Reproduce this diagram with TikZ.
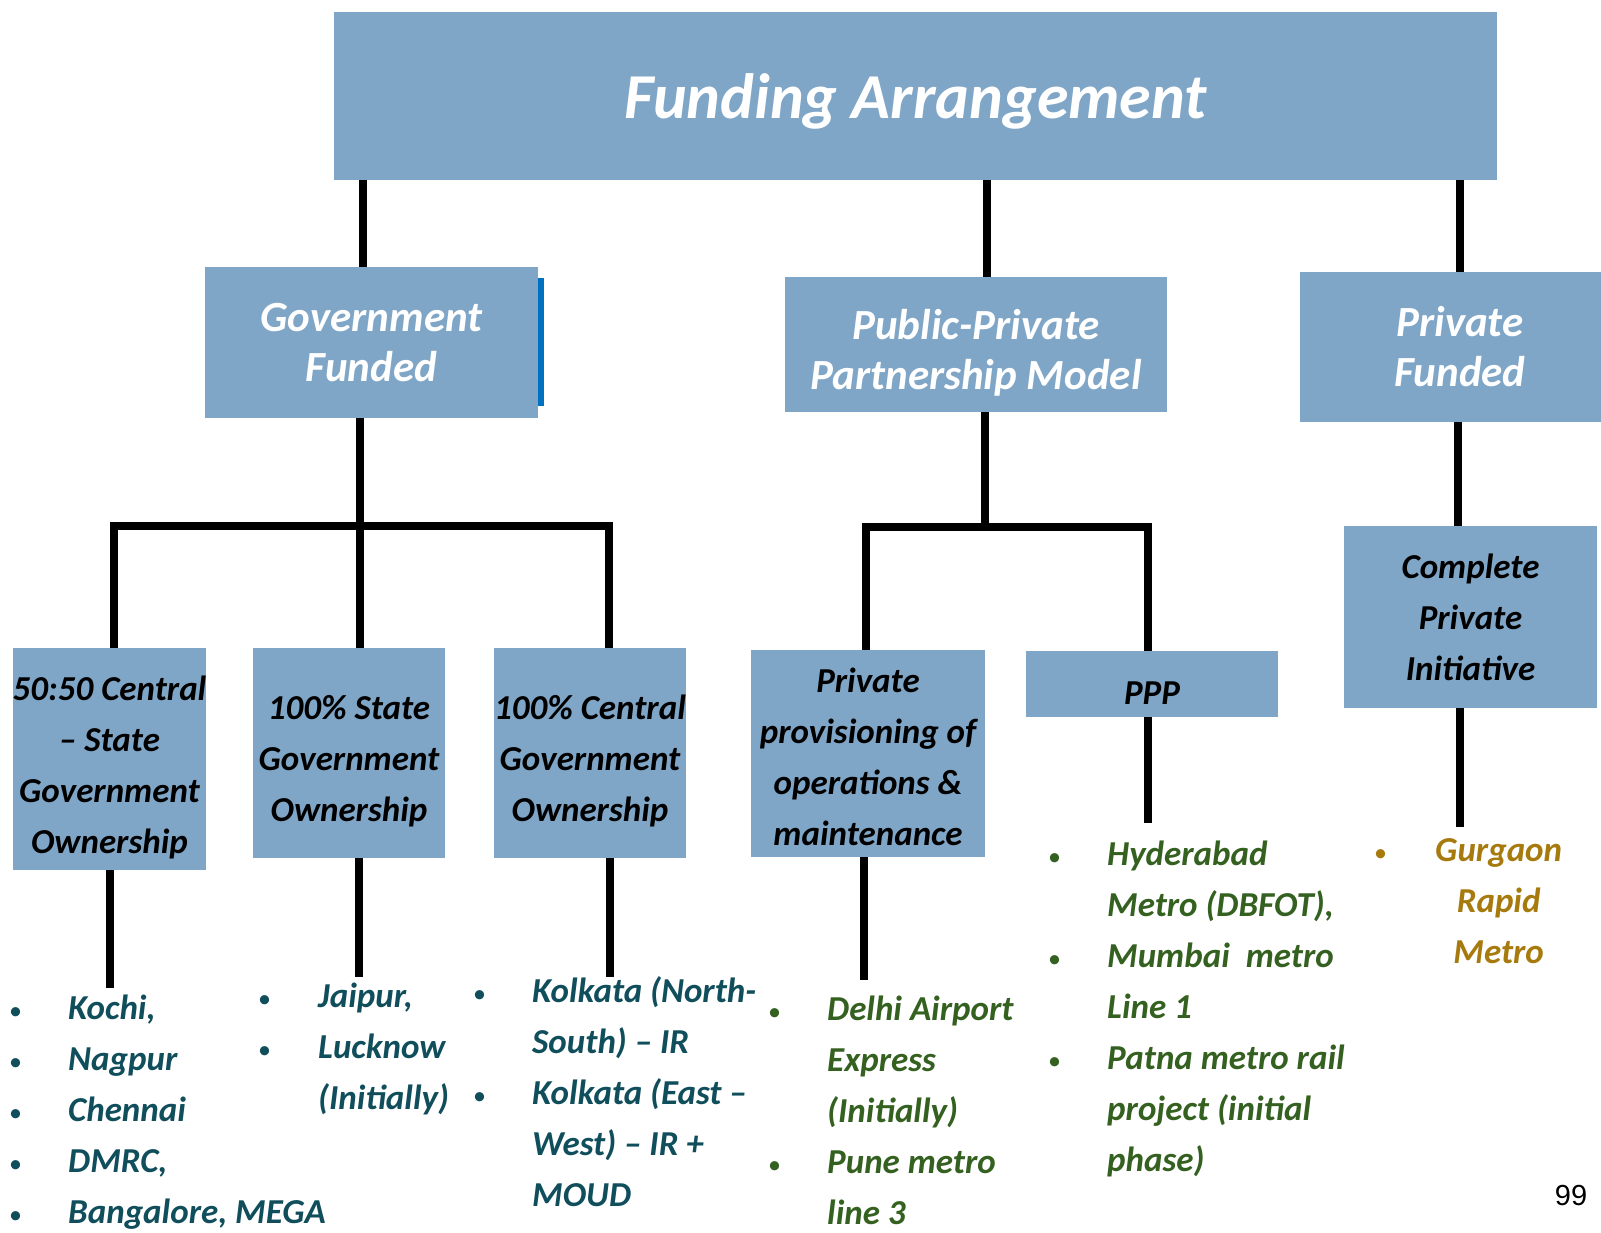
\documentclass[tikz,border=0pt]{standalone}
\usepackage{fontspec}
\setmainfont{Carlito}
\newfontfamily\pagefont{Liberation Sans}
\usepackage{xcolor}
\definecolor{BoxBlue}{RGB}{128,166,199}
\definecolor{EdgeBlue}{RGB}{0,112,192}
\definecolor{TealText}{RGB}{16,78,92}
\definecolor{GreenText}{RGB}{52,96,32}
\definecolor{GoldText}{RGB}{166,122,12}
\usepackage{tikz}
\usetikzlibrary{
    positioning,
    calc
}
\newcommand{\blt}{{\upshape\mdseries\fontsize{26}{51}\selectfont\textbullet}}
\newcommand{\boxlift}[1]{\rule{0pt}{#1}}

\begin{document}
\begin{tikzpicture}[
    x=1pt,y=-1pt,
    link/.style={
        line width=7.5pt,
        black
    },
    fundbox/.style={
        fill=BoxBlue,
        inner sep=0pt,
        align=center,
        font=\bfseries\itshape\fontsize{35}{51}\selectfont
    },
    headbox/.style={
        fundbox,
        text=white,
        font=\bfseries\itshape\fontsize{43}{50}\selectfont
    },
    listtext/.style={
        anchor=north west,
        inner sep=0pt,
        font=\bfseries\itshape\fontsize{35}{51}\selectfont
    }
]
%
    \useasboundingbox (0,0) rectangle (1601,1232);
    \fill[white] (0,0) rectangle (1601,1232);
%
    % boxes
    \node[
        headbox,
        minimum width=1163pt,
        minimum height=168pt,
        font=\bfseries\itshape\fontsize{64}{70}\selectfont
    ] (title) at (915.5,96) {\boxlift{55pt}Funding Arrangement};
%
    \node[
        headbox,
        minimum width=333pt,
        minimum height=151pt
    ] (gov) at (371.5,342.5) {Government\\Funded};
    \fill[EdgeBlue]
    ([yshift=-11pt]gov.north east)
    rectangle
    ([xshift=6pt,yshift=12pt]gov.south east);
%
    \node[
        headbox,
        minimum width=382pt,
        minimum height=135pt
    ] (pppmodel) at (976,344.5) {\boxlift{46pt}Public-Private\\Partnership Model};
%
    \node[
        headbox,
        minimum width=320pt,
        minimum height=150pt
    ] (private) at (1460,347) {Private\\Funded};
%
    \node[
        fundbox,
        minimum width=193pt,
        minimum height=222pt
    ] (halfhalf) at (109.5,759) {\boxlift{41pt}50:50 Central\\– State\\Government\\Ownership};
%
    \node[
        fundbox,
        minimum width=192pt,
        minimum height=210pt
    ] (state) at (349,753) {\boxlift{41pt}100\% State\\Government\\Ownership};
%
    \node[
        fundbox,
        minimum width=192pt,
        minimum height=210pt
    ] (central) at (590,753) {\boxlift{41pt}100\% Central\\Government\\Ownership};
%
    \node[
        fundbox,
        minimum width=234pt,
        minimum height=207pt
    ] (provis) at (868,753.5) {\boxlift{32pt}Private\\provisioning of\\operations \&\\maintenance};
%
    \node[
        fundbox,
        minimum width=252pt,
        minimum height=66pt
    ] (ppp) at (1152,684) {\boxlift{41pt}PPP};
%
    \node[
        fundbox,
        minimum width=253pt,
        minimum height=182pt
    ] (complete) at (1470.5,617) {Complete\\Private\\Initiative};
%
    % joints and free ends
    \coordinate (govjoint) at (360,526);
    \coordinate (govleft) at (114,526);
    \coordinate (govright) at (609,526);
    \coordinate (pppjoint) at (985,527);
    \coordinate (pppleft) at (866,527);
    \coordinate (pppright) at (1148,527);
    \coordinate (halfhalfend) at (110,988);
    \coordinate (stateend) at (359,977);
    \coordinate (centralend) at (610,977);
    \coordinate (provisend) at (864,980);
    \coordinate (pppend) at (1148,823);
    \coordinate (completeend) at (1460,827);
%
    % connectors
    \draw[link] (title.south -| 363,0) -- (gov.north -| 363,0);
    \draw[link] (title.south -| 987,0) -- (pppmodel.north -| 987,0);
    \draw[link] (title.south -| 1460,0) -- (private.north -| 1460,0);
%
    \draw[link] (gov.south -| govjoint) -- (govjoint);
    \draw[link]
    (halfhalf.north -| govleft)
    --
    (govleft)
    --
    (govright)
    --
    (central.north -| govright);
    \draw[link] (govjoint) -- (state.north -| govjoint);
%
    \draw[link] (pppmodel.south -| pppjoint) -- (pppjoint);
    \draw[link]
    (provis.north -| pppleft)
    --
    (pppleft)
    --
    (pppright)
    --
    (ppp.north -| pppright);
%
    \draw[link] (private.south -| 1458,0) -- (complete.north -| 1458,0);
%
    \draw[link] (halfhalf.south -| halfhalfend) -- (halfhalfend);
    \draw[link] (state.south -| stateend) -- (stateend);
    \draw[link] (central.south -| centralend) -- (centralend);
    \draw[link] (provis.south -| provisend) -- (provisend);
    \draw[link] (ppp.south -| pppend) -- (pppend);
    \draw[link] (complete.south -| completeend) -- (completeend);
%
    % example lists
    \node[listtext, text=TealText] (halfhalflist) at (9,984) {%
        \begin{tabular}{@{}p{59pt}@{}l@{}}
        \blt & Kochi,\\
        \blt & Nagpur\\
        \blt & Chennai\\
        \blt & DMRC,\\
        \blt & Bangalore, MEGA\\[-14pt]
        \end{tabular}};
%
    \node[listtext, text=TealText] (statelist) at (258,972) {%
        \begin{tabular}{@{}p{60pt}@{}l@{}}
        \blt & Jaipur,\\
        \blt & Lucknow\\
             & (Initially)
        \end{tabular}};
%
    \node[listtext, text=TealText] (centrallist) at (473,967) {%
        \begin{tabular}{@{}p{59pt}@{}l@{}}
        \blt & Kolkata (North-\\
             & South) – IR\\
        \blt & Kolkata (East –\\
             & West) – IR +\\
             & MOUD
        \end{tabular}};
%
    \node[listtext, text=GreenText] (provislist) at (768,985) {%
        \begin{tabular}{@{}p{59pt}@{}l@{}}
        \blt & Delhi Airport\\
             & Express\\
             & (Initially)\\
        \blt & Pune metro\\
             & line 3
        \end{tabular}};
%
    \node[listtext, text=GreenText] (ppplist) at (1048,830) {%
        \begin{tabular}{@{}p{59pt}@{}l@{}}
        \blt & Hyderabad\\
             & Metro (DBFOT),\\
        \blt & Mumbai \ metro\\
             & Line 1\\
        \blt & Patna metro rail\\
             & project (initial\\
             & phase)
        \end{tabular}};
%
    \node[listtext, text=GoldText] (completelist) at (1374,826) {%
        \begin{tabular}{@{}p{61pt}@{}c@{}}
        \blt & Gurgaon\\
             & Rapid\\
             & Metro
        \end{tabular}};
%
    \node[font=\pagefont\fontsize{29}{35}\selectfont] (pagenum) at (1571,1195) {99};
%
\end{tikzpicture}
\end{document}
